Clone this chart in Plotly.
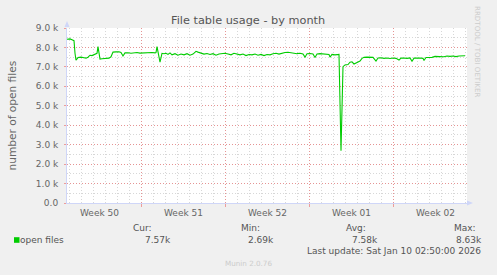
import plotly.graph_objects as go
import pandas as pd

# ---------------- data ----------------
range_start = "2025-12-07 20:00"
range_end = "2026-01-10 04:00"

hours_since_start = [
    0, 6, 10, 14, 16, 18, 22, 28, 34, 38,
    42, 46, 50, 54, 58, 60, 62, 64, 66, 70,
    78, 84, 88, 92, 98, 104, 108, 112, 116, 122,
    128, 134, 140, 146, 152, 158, 164, 170, 176, 178,
    180, 182, 186, 190, 194, 198, 202, 206, 210, 216,
    222, 228, 234, 240, 246, 252, 258, 262, 268, 274,
    280, 286, 292, 298, 304, 310, 316, 322, 328, 334,
    340, 346, 352, 358, 364, 370, 376, 382, 388, 394,
    400, 406, 412, 418, 424, 430, 436, 442, 448, 454,
    460, 466, 472, 476, 480, 486, 492, 496, 500, 506,
    512, 518, 524, 526, 530, 536, 542, 544, 548, 552,
    556, 562, 566, 570, 574, 578, 582, 586, 590, 594,
    600, 606, 612, 618, 622, 628, 634, 640, 646, 652,
    658, 664, 668, 674, 680, 686, 690, 694, 700, 706,
    712, 714, 718, 724, 730, 736, 742, 748, 754, 760,
    766, 772, 778, 784, 790, 796,
]
open_files = [
    8420, 8440, 8400, 8350, 7700, 7340, 7480, 7500, 7470, 7450,
    7500, 7600, 7580, 7640, 7660, 7700, 8040, 7700, 7400, 7420,
    7420, 7450, 7520, 7760, 7770, 7780, 7740, 7560, 7720, 7730,
    7700, 7720, 7740, 7710, 7720, 7730, 7720, 7740, 7720, 7740,
    8040, 7750, 7240, 7700, 7680, 7700, 7640, 7720, 7620, 7680,
    7600, 7660, 7620, 7680, 7600, 7660, 7800, 7760, 7700, 7660,
    7690, 7640, 7680, 7600, 7660, 7690, 7700, 7660, 7620, 7700,
    7640, 7620, 7660, 7580, 7640, 7620, 7660, 7600, 7640, 7580,
    7640, 7620, 7680, 7700, 7660, 7720, 7740, 7750, 7720, 7700,
    7680, 7700, 7660, 7500, 7680, 7690, 7660, 7480, 7660, 7680,
    7660, 7650, 7640, 7500, 7640, 7620, 7640, 7640, 2690, 7010,
    7100, 7120, 7240, 7260, 7150, 7200, 7270, 7300, 7440, 7490,
    7500, 7490, 7490, 7300, 7460, 7470, 7440, 7460, 7430, 7460,
    7440, 7350, 7450, 7460, 7440, 7460, 7290, 7450, 7460, 7460,
    7440, 7330, 7480, 7490, 7490, 7540, 7530, 7550, 7520, 7560,
    7540, 7560, 7530, 7560, 7550, 7570,
]

week_starts = ["2025-12-14", "2025-12-21", "2025-12-28", "2026-01-04"]
week_label_times = ["2025-12-10 12:00", "2025-12-17 12:00", "2025-12-24 12:00",
                    "2025-12-31 12:00", "2026-01-07 12:00"]
week_labels = ["Week 50", "Week 51", "Week 52", "Week 01", "Week 02"]

y_tick_values = [0, 1000, 2000, 3000, 4000, 5000, 6000, 7000, 8000, 9000]
y_tick_labels = ["0.0", "1.0 k", "2.0 k", "3.0 k", "4.0 k", "5.0 k",
                 "6.0 k", "7.0 k", "8.0 k", "9.0 k"]

series_name = "open files"
stat_names = ["Cur:", "Min:", "Avg:", "Max:"]
stat_values = ["7.57k", "2.69k", "7.58k", "8.63k"]
last_update = "Last update: Sat Jan 10 02:50:00 2026"
title_text = "File table usage - by month"
y_title = "number of open files"
side_text = "RRDTOOL / TOBI OETIKER"
footer_text = "Munin 2.0.76"

# ---------------- styling ----------------
W, H = 497, 275
L, R, T, B = 67, 467, 28, 203
FONT = "DejaVu Sans"
FONT_COLOR = "#666666"
TEXT_DARK = "#555555"
LINE_GREEN = "#00CC00"
MGRID = "rgba(235,120,120,0.7)"
GRID = "rgba(175,175,175,0.5)"
AXIS = "#CFD6F8"
DASH = "1px,2px"


def px(x):
    return (x - L) / (R - L)


def py(y):
    return (B - y) / (B - T)


times = pd.Timestamp(range_start) + pd.to_timedelta(hours_since_start, unit="h")

fig = go.Figure()
fig.add_trace(go.Scatter(
    x=times, y=open_files, mode="lines", name=series_name,
    line=dict(color=LINE_GREEN, width=1.1), hoverinfo="skip", showlegend=False,
))


def note(x, y, text, size=9, color=TEXT_DARK, xanchor="center", angle=0, **kw):
    d = dict(x=x, y=y, xref="paper", yref="paper", text=text, showarrow=False,
             xanchor=xanchor, yanchor="middle", textangle=angle, borderpad=0,
             font=dict(family=FONT, size=size, color=color))
    d.update(kw)
    return d


annotations = []
# week labels (centred in each week)
for t, lab in zip(week_label_times, week_labels):
    annotations.append(dict(x=t, xref="x", y=0, yref="paper", yshift=-9.5,
                            text=lab, showarrow=False, xanchor="center", yanchor="middle",
                            borderpad=0, font=dict(family=FONT, size=9, color=FONT_COLOR)))

annotations.append(note(px(248), py(20.5), title_text, size=11.3))
annotations.append(note(px(11), py(115.5), y_title, size=10.6, color=FONT_COLOR, angle=-90))
annotations.append(note(px(478), py(51), side_text, size=7.1, color="#CCCCCC", angle=90))
annotations.append(note(px(18.5), py(240), series_name, xanchor="left"))

name_right = [153, 261, 367, 477]
value_right = [172, 275, 379, 483]
for n, v, xr_n, xr_v in zip(stat_names, stat_values, name_right, value_right):
    annotations.append(note(px(xr_n), py(228), n, xanchor="right"))
    annotations.append(note(px(xr_v), py(239.5), v, xanchor="right"))
annotations.append(note(px(482), py(251), last_update, xanchor="right"))
annotations.append(note(px(248.5), py(263), footer_text, size=7.2, color="#CCCCCC"))

shapes = [
    # legend colour box
    dict(type="rect", xref="paper", yref="paper", x0=px(14), x1=px(19.5), y0=py(242.8), y1=py(237.2),
         fillcolor=LINE_GREEN, line=dict(width=0)),
    # y-axis arrow
    dict(type="path", xref="paper", yref="paper",
         path=f"M {px(64.5)} {py(27)} L {px(69.5)} {py(27)} L {px(67)} {py(21)} Z",
         fillcolor=AXIS, line=dict(width=0)),
    # x-axis arrow
    dict(type="path", xref="paper", yref="paper",
         path=f"M {px(467)} {py(200.5)} L {px(467)} {py(205.5)} L {px(473)} {py(203)} Z",
         fillcolor=AXIS, line=dict(width=0)),
]

fig.update_layout(
    width=W, height=H, autosize=False,
    margin=dict(l=L, r=W - R, t=T, b=H - B, pad=0),
    paper_bgcolor="#F0F0F0", plot_bgcolor="#FFFFFF",
    font=dict(family=FONT, size=9, color=FONT_COLOR),
    showlegend=False,
    annotations=annotations,
    shapes=shapes,
    xaxis=dict(
        type="date", range=[range_start, range_end], fixedrange=True,
        tickmode="array", tickvals=week_starts, ticktext=[""] * len(week_starts),
        showgrid=True, gridcolor=MGRID, griddash=DASH, gridwidth=1,
        ticks="outside", ticklen=3, tickcolor=MGRID, tickwidth=1,
        showline=True, linecolor=AXIS, linewidth=1, zeroline=False,
        minor=dict(tick0="2025-12-07", dtick=86400000, showgrid=True,
                   gridcolor=GRID, griddash=DASH, gridwidth=1, ticks=""),
    ),
    yaxis=dict(
        range=[0, 9000], fixedrange=True,
        tickmode="array", tickvals=y_tick_values, ticktext=y_tick_labels,
        showgrid=True, gridcolor=MGRID, griddash=DASH, gridwidth=1,
        ticks="outside", ticklen=2, tickcolor=MGRID,
        ticklabelstandoff=4,
        tickfont=dict(family=FONT, size=9, color=FONT_COLOR),
        showline=True, linecolor=AXIS, linewidth=1, zeroline=False,
        minor=dict(dtick=500, tick0=0, showgrid=True,
                   gridcolor=GRID, griddash=DASH, gridwidth=1, ticks=""),
    ),
)

fig.write_html("out.html", config={"displayModeBar": False, "staticPlot": True})
